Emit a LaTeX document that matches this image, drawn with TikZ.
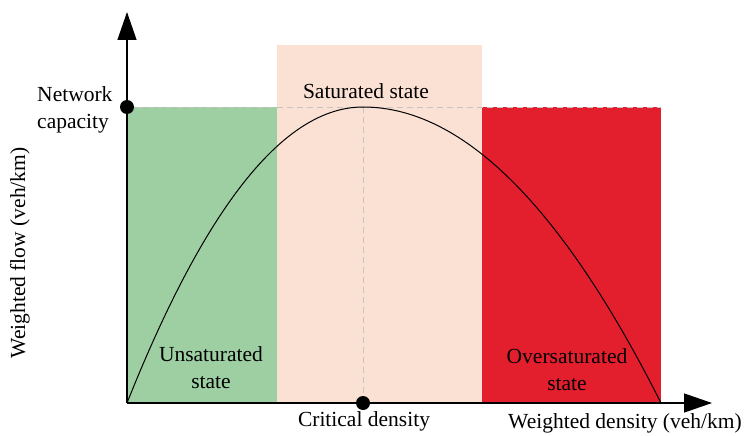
\documentclass[tikz,border=0pt]{standalone}
\usepackage{fontspec}
\setmainfont{Liberation Serif}
\usetikzlibrary{arrows.meta}
\definecolor{unsatgreen}{HTML}{9DCFA3}
\definecolor{satpeach}{HTML}{FAE1D3}
\definecolor{oversatred}{HTML}{E31E2D}
\definecolor{guidegray}{HTML}{C4C4C4}
\tikzset{
  axis/.style={line width=1.3pt,-{Triangle[length=28pt,width=19pt]}},
  guide/.style={guidegray,dashed,line width=0.9pt,dash pattern=on 6pt off 4pt},
  lbl/.style={align=center,font=\fontsize{21.5}{27}\selectfont}
}

\begin{document}
\begin{tikzpicture}[x=1pt,y=-1pt]
  \useasboundingbox (0,0) rectangle (745,436);
  \coordinate (O) at (127,403);
  \coordinate (ytip) at (127,12);
  \coordinate (xtip) at (712,403);
  \coordinate (cap) at (127,107);
  \coordinate (peak) at (363,107);
  \coordinate (crit) at (363,403);
  \coordinate (capend) at (661,107);

  \fill[unsatgreen] (127,107) rectangle (277,403);
  \fill[satpeach] (277,45) rectangle (482,403);
  \fill[oversatred] (482,107) rectangle (661,403);

  \draw[guide] (cap) -- (capend);
  \draw[guide] (peak) -- (crit);

  \draw[line width=1pt,domain=127:363,samples=60] plot(\x,{403-296*(1-((\x-363)/236)^2)});
  \draw[line width=1pt,domain=363:661,samples=60] plot(\x,{403-296*(1-((\x-363)/298)^2)});

  \draw[axis] (O) -- (ytip);
  \draw[axis] (O) -- (xtip);

  \path[fill=black] (cap) circle (7pt);
  \path[fill=black] (crit) circle (7pt);

  \node[lbl,align=left,anchor=east] (capacity) at (116,110) {Network\\capacity};
  \node[lbl] (saturated) at (366,91) {Saturated state};
  \node[lbl] (unsaturated) at (211,368) {Unsaturated\\state};
  \node[lbl] (oversaturated) at (567,370) {Oversaturated\\state};
  \node[lbl] (critical) at (364,421) {Critical density};
  \node[lbl] (xlabel) at (625,423) {Weighted density (veh/km)};
  \node[lbl,rotate=90] (ylabel) at (20,253) {Weighted flow (veh/km)};
\end{tikzpicture}
\end{document}
